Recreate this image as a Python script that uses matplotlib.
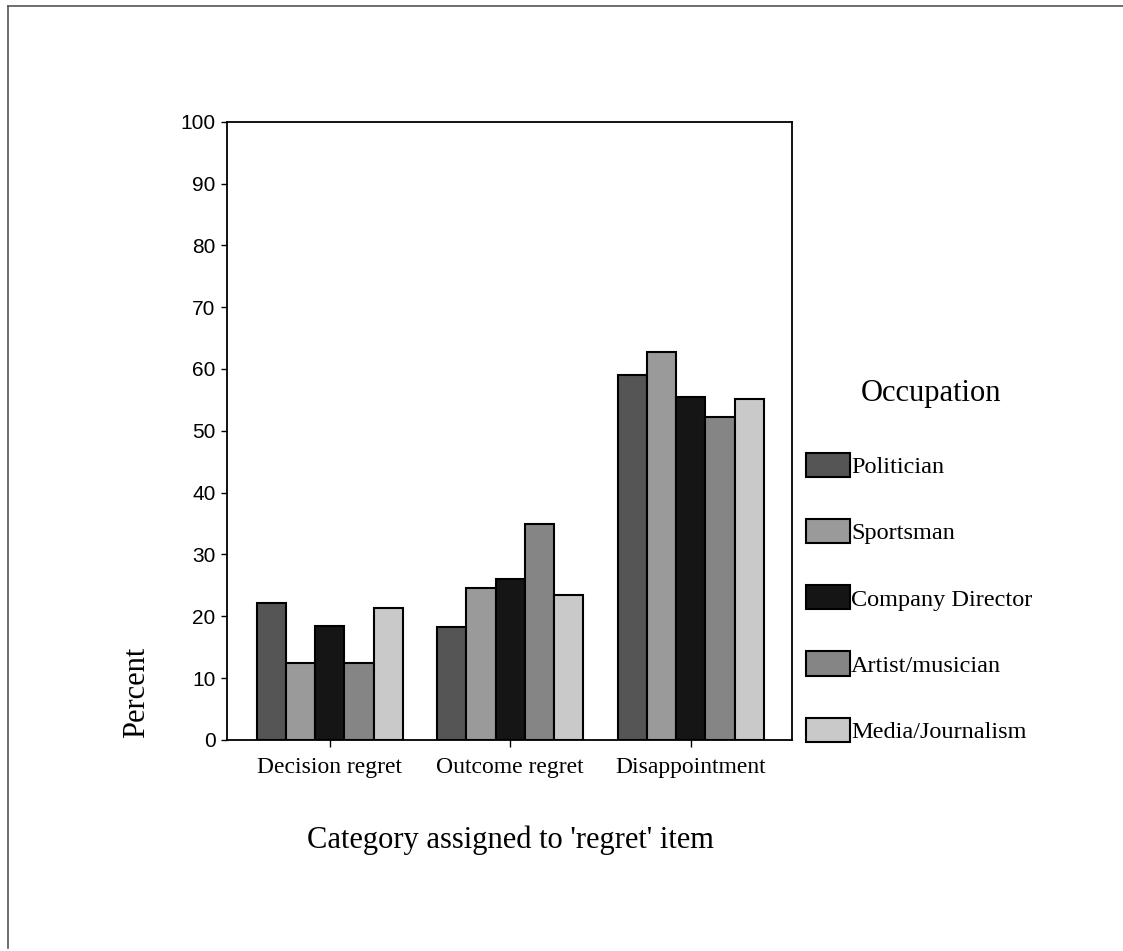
import numpy as np
import matplotlib.pyplot as plt
from matplotlib.lines import Line2D

categories = ["Decision regret", "Outcome regret", "Disappointment"]
occupations = ["Politician", "Sportsman", "Company Director", "Artist/musician", "Media/Journalism"]
politician = [22.1, 18.3, 59.1]
sportsman = [12.4, 24.6, 62.7]
director = [18.5, 26.0, 55.4]
artist = [12.4, 35.0, 52.3]
media = [21.4, 23.4, 55.1]
yticks = [0, 10, 20, 30, 40, 50, 60, 70, 80, 90, 100]

series = [politician, sportsman, director, artist, media]
colors = ["#555555", "#9a9a9a", "#151515", "#858585", "#c9c9c9"]

serif = "Liberation Serif"
sans = "Liberation Sans"

fig = plt.figure(figsize=(11.23, 9.51), dpi=100)
ax = fig.add_axes([0.202, 0.222, 0.503, 0.650])

x = np.arange(len(categories))
w = 0.162
handles = []
for i, (vals, col) in enumerate(zip(series, colors)):
    b = ax.bar(x + (i - 2) * w, vals, width=w, color=col, edgecolor="black",
               linewidth=1.5, label=occupations[i])
    handles.append(b)

ax.set_xlim(-0.57, 2.56)
ax.set_ylim(0, 100)
ax.set_yticks(yticks)
ax.set_yticklabels([str(t) for t in yticks], fontfamily=sans, fontsize=15)
ax.set_xticks(x)
ax.set_xticklabels(categories, fontfamily=serif, fontsize=17)
ax.tick_params(axis="y", direction="out", length=4, width=1, pad=4)
ax.tick_params(axis="x", direction="out", length=5, width=1, pad=7)
for s in ax.spines.values():
    s.set_linewidth(1.3)

fig.text(137 / 1123, 1 - 692 / 951, "Percent", rotation=90, ha="center", va="center",
         fontfamily=serif, fontsize=22)
fig.text(510 / 1123, 1 - 840 / 951, "Category assigned to 'regret' item", ha="center", va="center",
         fontfamily=serif, fontsize=22)
fig.text(931 / 1123, 1 - 393 / 951, "Occupation", ha="center", va="center",
         fontfamily=serif, fontsize=22)

leg = fig.legend(handles=handles, labels=occupations, loc="upper left",
                 bbox_to_anchor=(806 / 1123, 1 - 453 / 951), frameon=False,
                 prop={"family": serif, "size": 17.5}, labelspacing=1.68,
                 handlelength=1.8, handleheight=1.15, handletextpad=0.05,
                 borderpad=0, borderaxespad=0)

# outer frame of the scanned page
fig.add_artist(Line2D([8 / 1123, 1.0], [1 - 6 / 951, 1 - 6 / 951], color="#555555", lw=1.2))
fig.add_artist(Line2D([8 / 1123, 8 / 1123], [1 - 6 / 951, 1 - 948 / 951], color="#555555", lw=1.2))

fig.savefig("out.png", dpi=100)
